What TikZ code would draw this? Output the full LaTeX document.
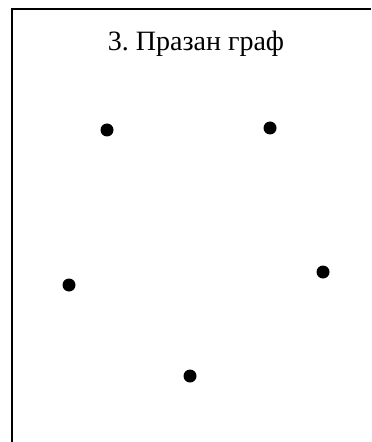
\documentclass[tikz,border=0pt]{standalone}
\usepackage{fontspec}
\setmainfont{Liberation Serif}
\frenchspacing
\begin{document}
\begin{tikzpicture}[x=1bp,y=-1bp,
  vertex/.style={circle,fill=black,inner sep=0pt,minimum size=13bp},
  frameline/.style={line width=2.2bp,black}]
\useasboundingbox (0,0) rectangle (371,442);
% open frame: only the top and left edges fall inside the page
\draw[frameline] (12,442) -- (12,9) -- (371,9);
\node[font=\fontsize{28bp}{32bp}\selectfont] (title) at (196,44) {3. Празан граф};
\node[vertex] (v1) at (107,130) {};
\node[vertex] (v2) at (270,128) {};
\node[vertex] (v3) at (69,285) {};
\node[vertex] (v4) at (323,272) {};
\node[vertex] (v5) at (190,376) {};
\end{tikzpicture}
\end{document}
